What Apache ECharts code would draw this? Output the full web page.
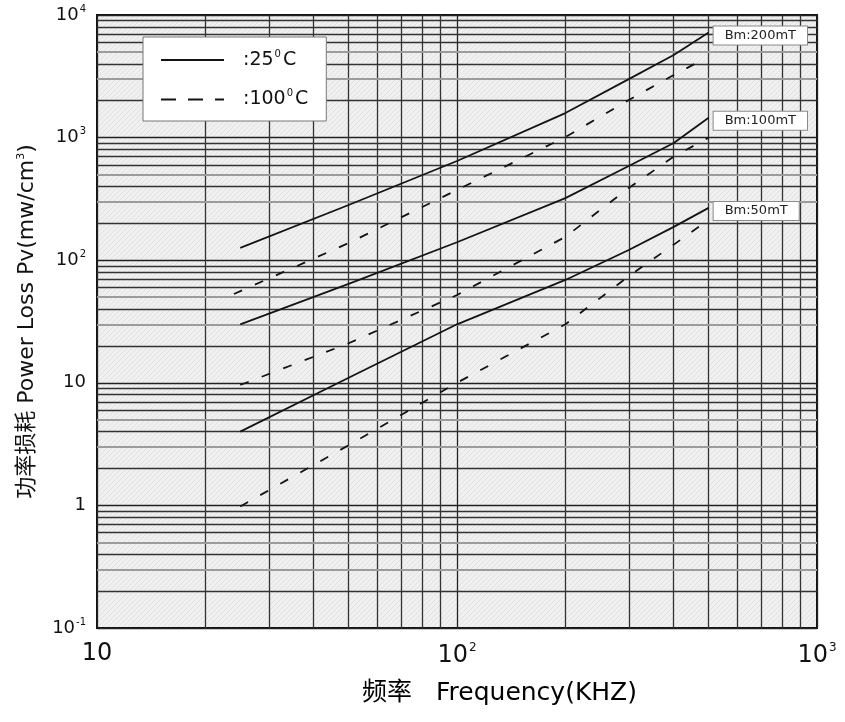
<!DOCTYPE html>
<html>
<head>
<meta charset="utf-8">
<script src="https://cdn.jsdelivr.net/npm/echarts@6/dist/echarts.min.js"></script>
<style>
html, body { margin: 0; padding: 0; background: #fff; }
#chart { width: 845px; height: 722px; }
</style>
</head>
<body>
<div id="chart"></div>
<script>
// Core loss curves (kHz -> mW/cm3), 25 °C solid, 100 °C dashed
const freq = [25, 50, 100, 200, 300, 400, 500];
const freq200Hot = [24, 50, 100, 200, 300, 400, 480];
const pv200Cold = [126, 282, 644, 1585, 3000, 4720, 7200];
const pv200Hot = [53, 138, 374, 1010, 2027, 3240, 4300];
const pv100Cold = [30, 64, 140, 321, 586, 904, 1450];
const pv100Hot = [9.6, 21, 52, 155, 388, 700, 1000];
const pv50Cold = [4, 11, 30, 69, 121, 187, 267];
const pv50Hot = [0.98, 3.1, 10, 30, 74, 134, 213];
const fluxLabels = ['Bm:200mT', 'Bm:100mT', 'Bm:50mT'];
const tempNames = ['25', '100'];

// log-paper grid: decades and their 2..9 subdivisions
const decadesX = [10, 100];
const decadesY = [0.1, 1, 10, 100, 1000];
const minorSteps = [2, 3, 4, 5, 6, 7, 8, 9];

const FONT = 'DejaVu Sans, Noto Sans CJK SC, sans-serif';
const INK = '#141414';

// light hatched paper texture for the plot area
function paperPattern() {
  const c = document.createElement('canvas');
  c.width = 5; c.height = 5;
  const g = c.getContext('2d');
  g.fillStyle = '#f0f0f0';
  g.fillRect(0, 0, 5, 5);
  g.fillStyle = '#e0e0e0';
  for (let i = 0; i < 5; i++) g.fillRect(i, 4 - i, 1, 1);
  return { image: c, repeat: 'repeat' };
}

function expLabel(v) {
  const e = Math.round(Math.log10(v));
  if (e === 0) return '1';
  if (e === 1) return '10';
  return '10{s|' + (e < 0 ? '-' : '') + Math.abs(e) + '}';
}

const darkRule = { color: '#333', width: 1.3, type: 'solid' };
const softRule = { color: '#9c9c9c', width: 2, type: 'solid' };
const gridLines = [];
decadesX.forEach(d => minorSteps.forEach(m => {
  gridLines.push({ xAxis: m * d, lineStyle: darkRule });
}));
decadesY.forEach(d => minorSteps.forEach(m => {
  gridLines.push({ yAxis: m * d, lineStyle: (m === 3 || m === 5) ? softRule : darkRule });
}));

function curve(name, xs, ys, dashed, endText) {
  const s = {
    name: name,
    type: 'line',
    data: xs.map((x, i) => [x, ys[i]]),
    symbol: 'none',
    showSymbol: false,
    smooth: false,
    z: 5,
    lineStyle: { color: INK, width: 1.8, type: dashed ? [9, 14] : 'solid' },
    itemStyle: { color: INK }
  };
  if (endText) {
    s.endLabel = {
      show: true,
      formatter: endText,
      distance: 5,
      offset: [0, 3],
      fontFamily: FONT,
      fontSize: 13,
      color: '#222',
      backgroundColor: '#fff',
      borderColor: '#8a8a8a',
      borderWidth: 1,
      padding: [3, 11, 2, 11]
    };
  }
  return s;
}

const chart = echarts.init(document.getElementById('chart'), null, { renderer: 'canvas' });

chart.setOption({
  animation: false,
  backgroundColor: '#fff',
  grid: {
    left: 97, top: 15, width: 720, height: 613,
    show: true,
    backgroundColor: paperPattern(),
    borderColor: '#111',
    borderWidth: 2
  },
  legend: {
    data: [{ name: tempNames[0] }, { name: tempNames[1], lineStyle: { type: [15, 12] } }],
    orient: 'vertical',
    left: 143, top: 37,
    z: 20,
    padding: [12, 18, 12, 17],
    itemWidth: 63, itemHeight: 14, itemGap: 19,
    backgroundColor: '#fff',
    borderColor: '#777',
    borderWidth: 1,
    itemStyle: { opacity: 0 },
    formatter: n => ':' + n + '{s|0}C',
    textStyle: {
      fontFamily: FONT, fontSize: 19, color: '#111',
      padding: [0, 0, 0, 14],
      rich: { s: { fontFamily: FONT, fontSize: 10, color: '#111', padding: [0, 2, 12, 1] } }
    }
  },
  xAxis: {
    type: 'log', logBase: 10, min: 10, max: 1000,
    axisLine: { show: false },
    axisTick: { show: false },
    splitLine: { show: true, lineStyle: { color: '#222', width: 1.3 } },
    axisLabel: {
      margin: 14,
      formatter: expLabel,
      fontFamily: FONT, fontSize: 24, color: '#111',
      rich: { s: { fontFamily: FONT, fontSize: 12, color: '#111', padding: [0, 0, 16, 1] } }
    }
  },
  yAxis: {
    type: 'log', logBase: 10, min: 0.1, max: 10000,
    axisLine: { show: false },
    axisTick: { show: false },
    splitLine: { show: true, lineStyle: { color: '#222', width: 1.3 } },
    axisLabel: {
      margin: 11,
      formatter: expLabel,
      fontFamily: FONT, fontSize: 18, color: '#111',
      rich: { s: { fontFamily: FONT, fontSize: 10, color: '#111', padding: [0, 0, 12, 1] } }
    },
    name: '功率损耗 Power Loss Pv(mw/cm{s|3})',
    nameLocation: 'middle',
    nameGap: 58,
    nameTextStyle: {
      fontFamily: FONT, fontSize: 22, color: '#111',
      rich: { s: { fontFamily: FONT, fontSize: 11, color: '#111', padding: [0, 0, 12, 0] } }
    }
  },
  graphic: [{
    type: 'text',
    left: 362, top: 681,
    style: {
      text: '{a|频率}{b|Frequency(KHZ)}',
      rich: {
        a: { fontFamily: FONT, fontSize: 25, color: '#111', padding: [0, 24, 0, 0] },
        b: { fontFamily: FONT, fontSize: 25, color: '#111' }
      }
    }
  }],
  series: [
    {
      type: 'line', data: [], silent: true, z: 1,
      markLine: {
        silent: true, z: 1, symbol: ['none', 'none'],
        label: { show: false },
        emphasis: { disabled: true },
        lineStyle: { type: 'solid' },
        data: gridLines
      }
    },
    curve(tempNames[0], freq, pv200Cold, false, fluxLabels[0]),
    curve(tempNames[1], freq200Hot, pv200Hot, true, null),
    curve(tempNames[0], freq, pv100Cold, false, fluxLabels[1]),
    curve(tempNames[1], freq, pv100Hot, true, null),
    curve(tempNames[0], freq, pv50Cold, false, fluxLabels[2]),
    curve(tempNames[1], freq, pv50Hot, true, null)
  ]
});
</script>
</body>
</html>
